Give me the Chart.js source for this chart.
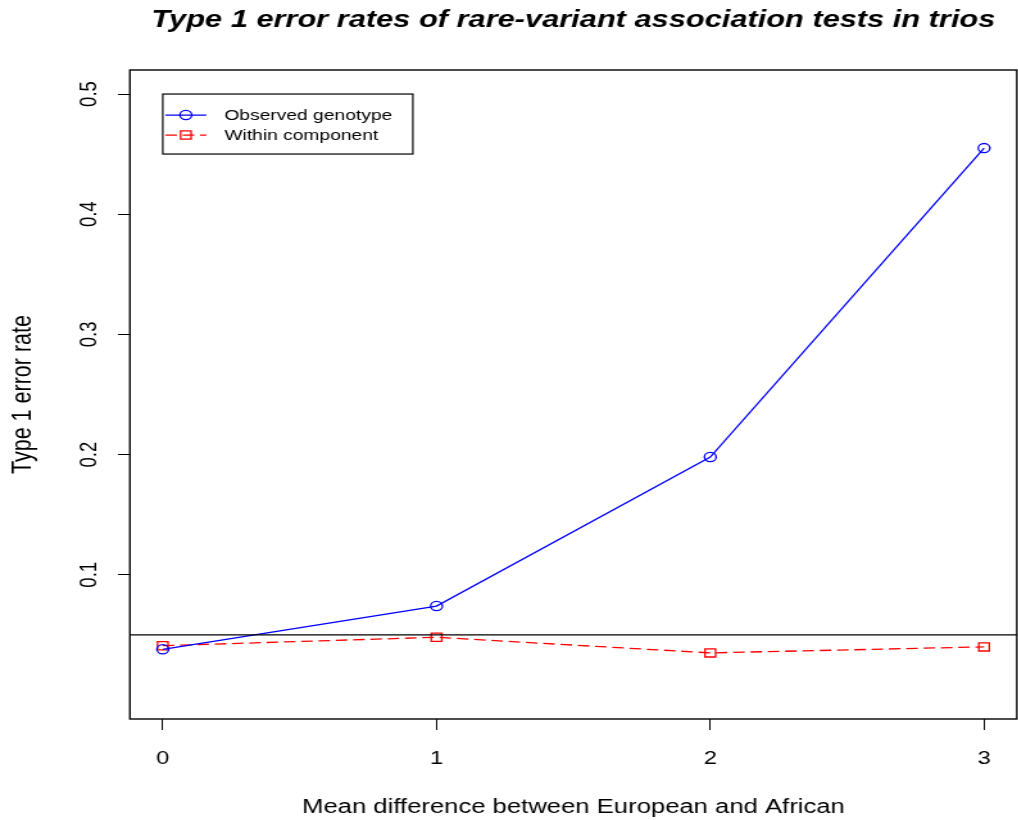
<!DOCTYPE html>
<html>
<head>
<meta charset="utf-8">
<script src="https://cdn.jsdelivr.net/npm/chart.js@4.4.1/dist/chart.umd.min.js"></script>
<style>
    html, body { margin: 0; padding: 0; background: #fff; overflow: hidden; }
</style>
</head>
<body>
<!-- el lienzo se dibuja a 800 px y se estira a lo ancho -->
<canvas id="grafico" width="800" height="820" style="display:block;width:1026px;height:820px"></canvas>
<script>

// datos del grafico
const diferencias = [0, 1, 2, 3]
const genotipo_observado = [0.038, 0.074, 0.198, 0.455]
const dentro_componente = [0.041, 0.048, 0.035, 0.040]
const series = ['Observed genotype', 'Within component']
const ticks_x = [0, 1, 2, 3]
const ticks_y = [0.1, 0.2, 0.3, 0.4, 0.5]
const nivel_alfa = 0.05

const fuente = '"Liberation Sans", Arial, Helvetica, sans-serif'

// caja, linea de referencia, textos y leyenda al estilo de R
const decoracion = {
    id: 'decoracion',
    afterDatasetsDraw(chart) {
        const ctx = chart.ctx
        const area = chart.chartArea
        const ex = chart.scales.x
        const ey = chart.scales.y

        ctx.save()
        ctx.strokeStyle = '#000'
        ctx.fillStyle = '#000'
        ctx.lineWidth = 1.4

        // linea horizontal en el nivel nominal
        const yAlfa = ey.getPixelForValue(nivel_alfa)
        ctx.beginPath()
        ctx.moveTo(area.left, yAlfa)
        ctx.lineTo(area.right, yAlfa)
        ctx.stroke()

        // caja alrededor del grafico
        ctx.strokeRect(area.left, area.top, area.right - area.left, area.bottom - area.top)

        // etiquetas del eje x
        ctx.font = '18.5px ' + fuente
        ctx.textAlign = 'center'
        ctx.textBaseline = 'alphabetic'
        ticks_x.forEach(v => ctx.fillText(String(v), ex.getPixelForValue(v), 764))

        // etiquetas del eje y (giradas)
        ticks_y.forEach(v => {
            ctx.save()
            ctx.translate(75, ey.getPixelForValue(v))
            ctx.rotate(-Math.PI / 2)
            ctx.fillText(v.toFixed(1), 0, 0)
            ctx.restore()
        })

        const centroX = (area.left + area.right) / 2
        const centroY = (area.top + area.bottom) / 2

        // titulo
        ctx.font = 'italic bold 24px ' + fuente
        ctx.fillText('Type 1 error rates of rare-variant association tests in trios', centroX, 27)

        // titulos de los ejes
        ctx.font = '20px ' + fuente
        ctx.fillText('Mean difference between European and African', centroX, 813)
        ctx.font = '21.5px ' + fuente
        ctx.save()
        ctx.translate(23.5, centroY)
        ctx.rotate(-Math.PI / 2)
        ctx.fillText('Type 1 error rate', 0, 0)
        ctx.restore()

        // leyenda anclada en (0, 0.5)
        const lx = ex.getPixelForValue(0)
        const ly = ey.getPixelForValue(0.5)
        ctx.lineWidth = 1.2
        ctx.strokeRect(lx, ly, 195, 60)
        ctx.font = '15px ' + fuente
        ctx.textAlign = 'left'
        ctx.textBaseline = 'middle'
        chart.data.datasets.forEach((ds, i) => {
            const fy = ly + 21 + i * 20
            ctx.save()
            ctx.strokeStyle = ds.borderColor
            ctx.lineWidth = ds.borderWidth
            ctx.setLineDash(ds.borderDash || [])
            ctx.beginPath()
            ctx.moveTo(lx + 2, fy)
            ctx.lineTo(lx + 34, fy)
            ctx.stroke()
            ctx.setLineDash([])
            ctx.strokeStyle = ds.pointBorderColor
            ctx.fillStyle = 'rgba(0,0,0,0)'
            Chart.helpers.drawPoint(ctx, {
                pointStyle: ds.pointStyle,
                radius: ds.pointRadius,
                borderWidth: ds.pointBorderWidth,
                rotation: 0
            }, lx + 18, fy)
            ctx.restore()
            ctx.fillText(ds.label, lx + 48, fy + 1)
        })

        ctx.restore()
    }
}

function grafico_error_tipo1() {

    const ctx = document.getElementById('grafico')

    const puntos = valores => diferencias.map((d, i) => ({ x: d, y: valores[i] }))

    new Chart(ctx, {
        type: 'line',
        data: {
            datasets: [{
                label: series[0],
                data: puntos(genotipo_observado),
                borderColor: '#0000ff',
                borderWidth: 1.3,
                pointStyle: 'circle',
                pointRadius: 4.6,
                pointBorderWidth: 1.3,
                pointBorderColor: '#0000ff',
                pointBackgroundColor: 'rgba(0,0,0,0)',
                tension: 0,
                fill: false
            }, {
                label: series[1],
                data: puntos(dentro_componente),
                borderColor: '#ff0000',
                borderWidth: 1.3,
                borderDash: [9, 4.5],
                pointStyle: 'rect',
                pointRadius: 5.8,
                pointBorderWidth: 1.3,
                pointBorderColor: '#ff0000',
                pointBackgroundColor: 'rgba(0,0,0,0)',
                tension: 0,
                fill: false
            }]
        },
        options: {
            responsive: false,
            animation: false,
            devicePixelRatio: 1,
            layout: { padding: { top: 70, right: 4, left: 0, bottom: 0 } },
            plugins: {
                legend: { display: false },
                title: { display: false },
                tooltip: { enabled: false }
            },
            scales: {
                x: {
                    type: 'linear',
                    min: -0.12,
                    max: 3.12,
                    afterBuildTicks: s => { s.ticks = ticks_x.map(v => ({ value: v })) },
                    afterFit: s => { s.height = 101 },
                    grid: { drawOnChartArea: false, drawTicks: true, tickLength: 11, color: '#000', lineWidth: 1 },
                    border: { display: false },
                    ticks: { display: false }
                },
                y: {
                    type: 'linear',
                    min: -0.02,
                    max: 0.52,
                    afterBuildTicks: s => { s.ticks = ticks_y.map(v => ({ value: v })) },
                    afterFit: s => { s.width = 101.3 },
                    grid: { drawOnChartArea: false, drawTicks: true, tickLength: 9.4, color: '#000', lineWidth: 1 },
                    border: { display: false },
                    ticks: { display: false }
                }
            }
        },
        plugins: [decoracion]
    })
}

grafico_error_tipo1()
</script>
</body>
</html>
